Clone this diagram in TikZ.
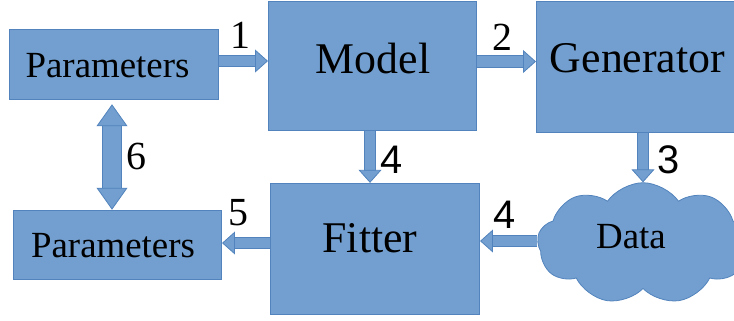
\documentclass[tikz,border=0pt]{standalone}
\usepackage{fontspec}
\setmainfont{Liberation Serif}
\newfontfamily\numfont{Liberation Sans}
\usetikzlibrary{arrows.meta,shapes.symbols,calc}

\definecolor{boxfill}{HTML}{729FCF}
\definecolor{boxline}{HTML}{5283BD}

\tikzset{
  block/.style={draw=boxline, fill=boxfill, line width=0.8, inner sep=0},
  bigtxt/.style={font=\fontsize{44}{44}\selectfont, anchor=base},
  smalltxt/.style={font=\fontsize{37}{37}\selectfont, anchor=base},
  numtxt/.style={font=\fontsize{40}{40}\selectfont, anchor=base},
  numsans/.style={font=\numfont\fontsize{40}{40}\selectfont, anchor=base},
  flow/.style={line width=11, color=boxfill,
    -{Triangle[length=13,width=23,line width=0.8,color=boxline,fill=boxfill]},
    preaction={draw=boxline, line width=12.6, arrows=-, shorten >=12}},
  flowboth/.style={line width=19, color=boxfill,
    {Triangle[length=22,width=31,line width=0.8,color=boxline,fill=boxfill]}-{Triangle[length=22,width=31,line width=0.8,color=boxline,fill=boxfill]},
    preaction={draw=boxline, line width=20.6, arrows=-, shorten >=21, shorten <=21}},
}

\begin{document}
\begin{tikzpicture}[x=1bp,y=-1bp]
\path[use as bounding box, clip] (0,0) rectangle (734,320);

% Boxes
\node[block, minimum width=210, minimum height=71] (par1) at (114,64.5) {};
\node[block, minimum width=209, minimum height=130] (model) at (372.5,66) {};
\node[block, minimum width=210, minimum height=132] (gen) at (641,67) {};
\node[block, minimum width=209, minimum height=70] (par2) at (117.5,245) {};
\node[block, minimum width=210, minimum height=132] (fit) at (375,249) {};
\node[block, cloud, cloud puffs=9, cloud puff arc=110, aspect=1.7, minimum width=212, minimum height=122] (data) at (643,243.5) {};

% Texts
\node[bigtxt] (modeltxt) at (373,73) {Model};
\node[bigtxt] (gentxt) at (637.5,72) {Generator};
\node[bigtxt] (fittxt) at (370,252) {Fitter};
\node[smalltxt] (par1txt) at (107.5,77) {Parameters};
\node[smalltxt] (par2txt) at (113,257) {Parameters};
\node[smalltxt] (datatxt) at (631,248) {Data};

% Arrows
\draw[flow] ([yshift=3.5]par1.east) -- ([yshift=3.5]par1.east -| model.west);
\draw[flow] ([yshift=4.5]model.east) -- ([yshift=4.5]model.east -| gen.west);
\draw[flow] ([xshift=-2.5]model.south) -- ([xshift=-2.5]model.south |- fit.north);
\draw[flow] (gen.south -| data.north) -- (data.north);
\draw[flow] ([yshift=2.5]data.west) -- ([yshift=2.5]data.west -| fit.east);
\draw[flow] ([yshift=2]fit.west |- par2.east) -- ([yshift=2]par2.east);
\draw[flowboth] ([xshift=-2,yshift=-4]par1.south) -- ([xshift=-2]par1.south |- par2.north);

% Step numbers
\node[numtxt] (n1) at (240,48) {1};
\node[numtxt] (n2) at (502,50) {2};
\node[numsans] (n4a) at (392,173) {4};
\node[numsans] (n3) at (669,173) {3};
\node[numtxt] (n6) at (136,169) {6};
\node[numtxt] (n5) at (238,225) {5};
\node[numsans] (n4b) at (505,228) {4};
\end{tikzpicture}
\end{document}
